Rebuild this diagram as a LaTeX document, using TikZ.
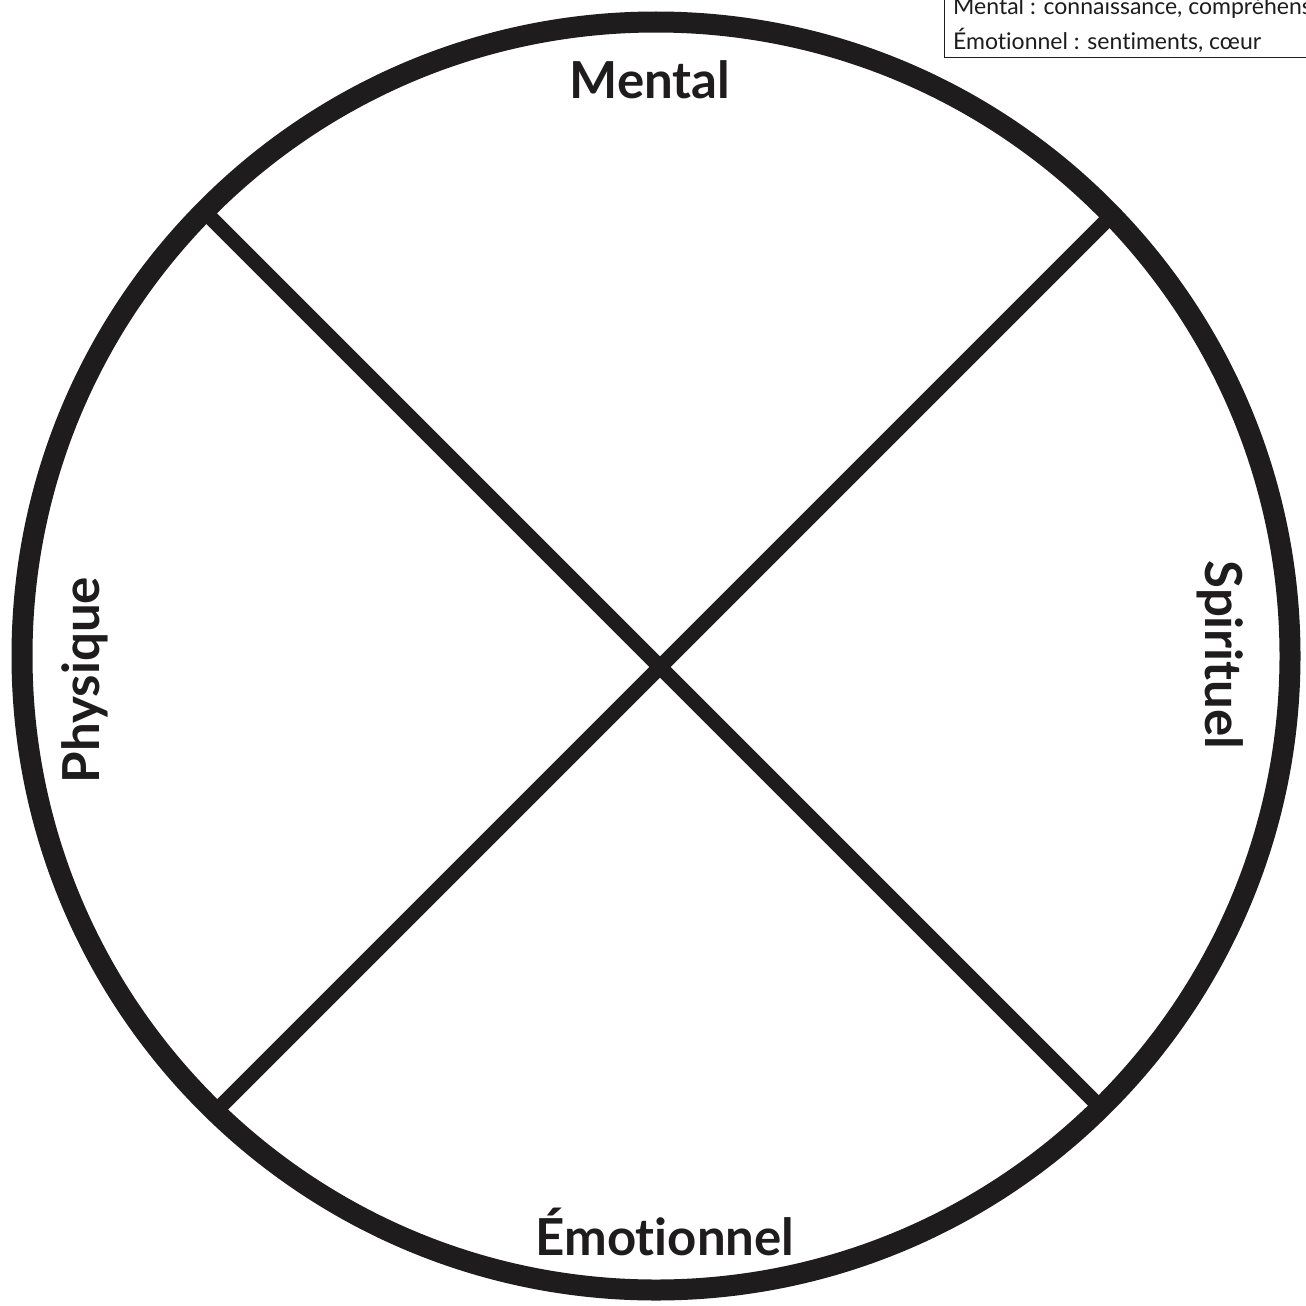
\documentclass[tikz,border=0pt]{standalone}
\usepackage{fontspec}
\setmainfont{Lato}[Ligatures=NoCommon]
\definecolor{ink}{HTML}{1E1C1C}
\begin{document}
\begin{tikzpicture}[x=1pt,y=-1pt,
  ring/.style={draw=ink,line width=21pt},
  spoke/.style={draw=ink,line width=15pt},
  lab/.style={font=\fontsize{51}{60}\selectfont\bfseries,text=ink,inner sep=0pt},
  legtext/.style={font=\fontsize{23}{27}\selectfont,text=ink,inner sep=0pt,anchor=base west}]
\useasboundingbox (0,0) rectangle (1306,1306);
\clip (0,0) rectangle (1306,1306);
\fill[white] (0,0) rectangle (1306,1306);
\coordinate (c) at (656,656);
\draw[ring] (c) circle[radius=634pt];
\coordinate (p1) at (204.2,211.2);
\coordinate (p2) at (1100.8,1107.8);
\coordinate (p3) at (1111.7,215.3);
\coordinate (p4) at (215.3,1111.7);
\draw[spoke] (p1) -- (p2);
\draw[spoke] (p3) -- (p4);
\node[lab] (mental) at (650,80) {Mental};
\node[lab] (emo) at (665,1232) {Émotionnel};
\node[lab,rotate=90] (phys) at (85,680) {Physique};
\node[lab,rotate=-90] (spir) at (1220,655) {Spirituel};
\draw[draw=ink,line width=1pt,fill=white] (944,-10) rectangle (1320,58);
\node[legtext] (l1) at (953,15) {Mental : connaissance, compréhension};
\node[legtext] (l2) at (953,49) {Émotionnel : sentiments, cœur};
\end{tikzpicture}
\end{document}
